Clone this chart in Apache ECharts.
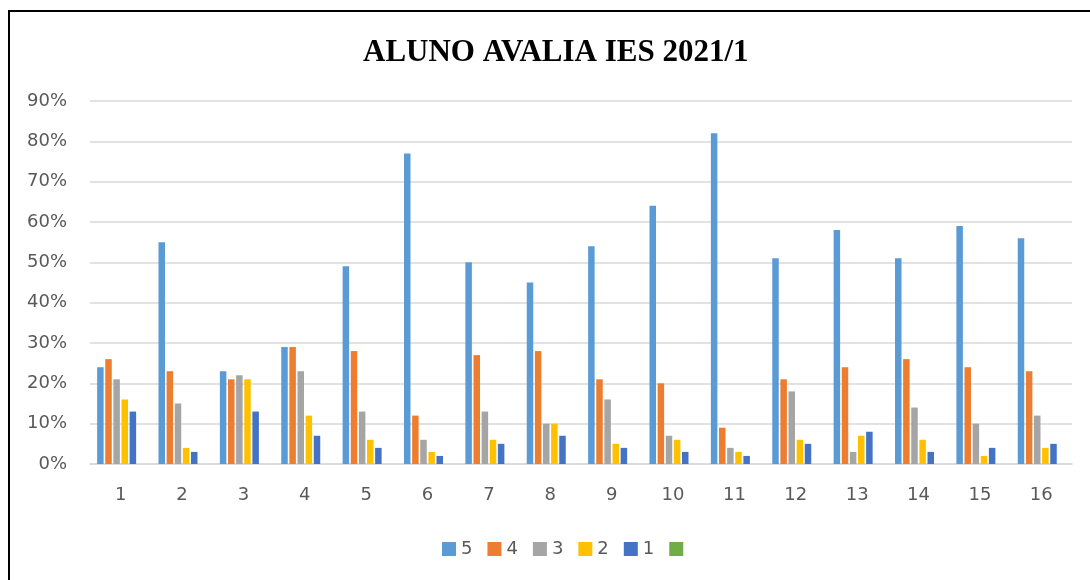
<!DOCTYPE html>
<html>
<head>
<meta charset="utf-8">
<script src="https://cdn.jsdelivr.net/npm/echarts@6/dist/echarts.min.js"></script>
<style>
  html, body { margin: 0; padding: 0; background: #fff; }
  #chart { width: 1090px; height: 580px; }
  #frame { position: absolute; left: 8px; top: 10px; width: 1090px; height: 580px;
           border-left: 2px solid #000; border-top: 2px solid #000; pointer-events: none; }
</style>
</head>
<body>
<div id="chart"></div>
<div id="frame"></div>
<script>
// categorias (questões) e percentuais por nota
var categories = ['1', '2', '3', '4', '5', '6', '7', '8', '9', '10', '11', '12', '13', '14', '15', '16']
var nota5 = [24, 55, 23, 29, 49, 77, 50, 45, 54, 64, 82, 51, 58, 51, 59, 56]
var nota4 = [26, 23, 21, 29, 28, 12, 27, 28, 21, 20, 9, 21, 24, 26, 24, 23]
var nota3 = [21, 15, 22, 23, 13, 6, 13, 10, 16, 7, 4, 18, 3, 14, 10, 12]
var nota2 = [16, 4, 21, 12, 6, 3, 6, 10, 5, 6, 3, 6, 7, 6, 2, 4]
var nota1 = [13, 3, 13, 7, 4, 2, 5, 7, 4, 3, 2, 5, 8, 3, 4, 5]
var semNota = [] // série vazia que aparece só na legenda

var seriesNames = ['5', '4', '3', '2', '1', ' ']
var colors = ['#5B9BD5', '#ED7D31', '#A5A5A5', '#FFC000', '#4472C4', '#70AD47']
var seriesData = [nota5, nota4, nota3, nota2, nota1, semNota]

var chart = echarts.init(document.getElementById('chart'))

var series = seriesData.map(function (d, i) {
  return {
    name: seriesNames[i],
    type: 'bar',
    data: d,
    barWidth: 6.5,
    barGap: '25%',
    itemStyle: { color: colors[i] }
  }
})

var option = {
  animation: false,
  color: colors,
  title: {
    text: 'ALUNO AVALIA IES 2021/1',
    left: 358,
    top: 32,
    textStyle: {
      fontFamily: 'Liberation Serif',
      fontWeight: 'bold',
      fontSize: 31,
      color: '#000'
    }
  },
  legend: {
    data: seriesNames,
    bottom: 17,
    left: 437,
    icon: 'rect',
    itemWidth: 14,
    itemHeight: 14,
    itemGap: 15,
    textStyle: { fontFamily: 'DejaVu Sans', fontSize: 18, color: '#595959' }
  },
  grid: {
    left: 90,
    right: 18,
    top: 101,
    bottom: 116
  },
  xAxis: {
    type: 'category',
    data: categories,
    axisTick: { show: false },
    axisLine: { lineStyle: { color: '#d9d9d9', width: 1.5 } },
    axisLabel: { fontFamily: 'DejaVu Sans', fontSize: 18, color: '#595959', margin: 22 }
  },
  yAxis: {
    type: 'value',
    min: 0,
    max: 90,
    interval: 10,
    axisLine: { show: false },
    axisTick: { show: false },
    splitLine: { lineStyle: { color: '#d9d9d9', width: 1.5 } },
    axisLabel: {
      fontFamily: 'DejaVu Sans',
      fontSize: 18,
      color: '#595959',
      margin: 23,
      formatter: '{value}%'
    }
  },
  series: series
}

chart.setOption(option)
</script>
</body>
</html>
